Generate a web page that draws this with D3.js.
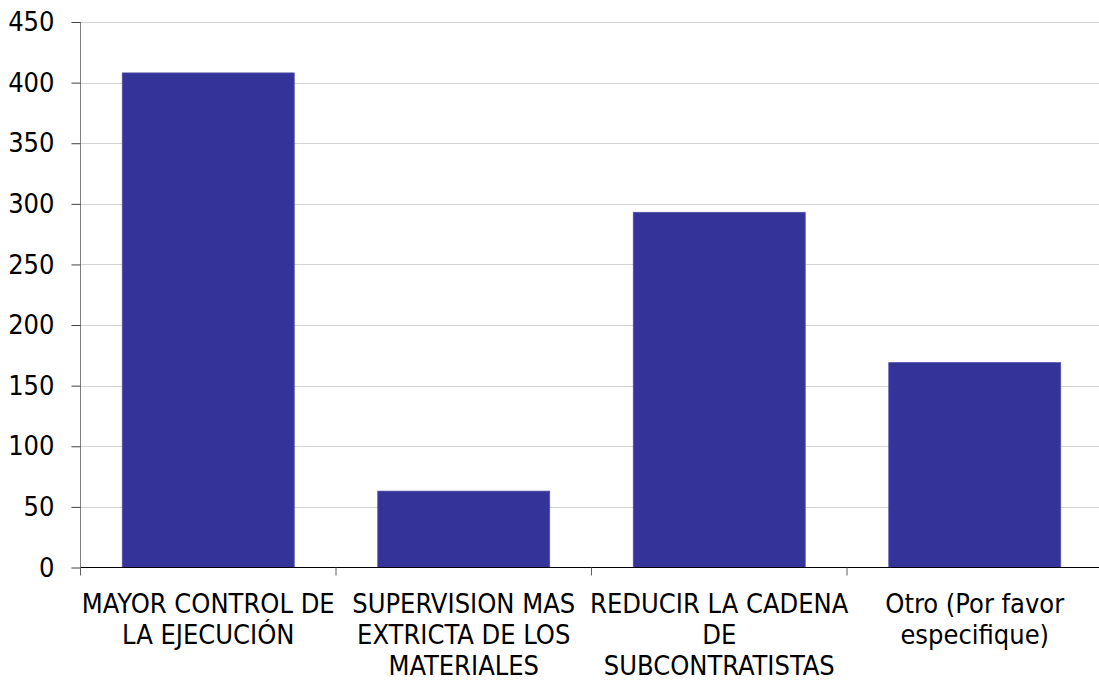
<!DOCTYPE html>
<html><head><meta charset="utf-8">
<script src="https://cdn.jsdelivr.net/npm/d3@7"></script>
<style>
html,body{margin:0;padding:0;background:#fff;}
svg{display:block;}
text{font-family:"DejaVu Sans Condensed","DejaVu Sans",sans-serif;fill:#000;}
</style></head><body>
<svg id="c" width="1099" height="682"></svg>
<script>
const categories = ["MAYOR CONTROL DE LA EJECUCIÓN","SUPERVISION MAS EXTRICTA DE LOS MATERIALES","REDUCIR LA CADENA DE SUBCONTRATISTAS","Otro (Por favor especifique)"];
const categoryLines = [["MAYOR CONTROL DE","LA EJECUCIÓN"],["SUPERVISION MAS","EXTRICTA DE LOS","MATERIALES"],["REDUCIR LA CADENA","DE","SUBCONTRATISTAS"],["Otro (Por favor","especifique)"]];
const values = [408, 63, 293, 169];
const yTicks = [0,50,100,150,200,250,300,350,400,450];

const svg = d3.select("#c");
const m = {left:80.5, top:22, right:-3.5, bottom:114.5};
const W = 1099, H = 682;
const x = d3.scaleBand().domain(categories).range([m.left, W - m.right]).paddingInner(0.327).paddingOuter(0.1635);
const xb = d3.scaleBand().domain(categories).range([m.left, W - m.right]);
const y = d3.scaleLinear().domain([0,450]).range([H - m.bottom, m.top]);

// gridlines
svg.append("g").selectAll("line").data(yTicks.filter(d=>d>0)).join("line")
  .attr("x1", m.left).attr("x2", W).attr("y1", d=>Math.round(y(d))+0.5).attr("y2", d=>Math.round(y(d))+0.5)
  .attr("stroke","#d4d4d4").attr("stroke-width",1);

// bars
svg.append("g").selectAll("rect").data(values).join("rect")
  .attr("x",(d,i)=>x(categories[i])).attr("width",x.bandwidth())
  .attr("y",d=>y(d)).attr("height",d=>y(0)-y(d))
  .attr("fill","#333399").attr("stroke","#5050a8").attr("stroke-width",0.8);

// y axis
const yAxis = d3.axisLeft(y).tickValues(yTicks).tickSize(9).tickPadding(17);
const gy = svg.append("g").attr("transform",`translate(${m.left},0)`).call(yAxis);
gy.select(".domain").attr("stroke","#808080").attr("d",`M0,${y(0)}V${y(450)}`);
gy.selectAll(".tick line").attr("stroke","#404040");
gy.selectAll(".tick text").style("font-size","27px").attr("font-family",null);
gy.attr("font-family",null).attr("font-size",null);

// x axis
const xAxis = d3.axisBottom(xb).tickSize(0).tickFormat("");
const gx = svg.append("g").attr("transform",`translate(0,${y(0)})`).call(xAxis);
gx.select(".domain").attr("stroke","#000").attr("d",`M${m.left},0H${W}`);
gx.selectAll(".tick").remove();
// boundary ticks
const bounds = categories.map(c=>xb(c)).concat([xb(categories[3])+xb.bandwidth()]);
gx.selectAll("line.bt").data(bounds).join("line").attr("class","bt")
  .attr("x1",d=>d).attr("x2",d=>d).attr("y1",0).attr("y2",8).attr("stroke","#606060");

// category labels
const lab = svg.append("g");
categoryLines.forEach((lines,i)=>{
  const cx = xb(categories[i]) + xb.bandwidth()/2;
  const t = lab.append("text").attr("text-anchor","middle").style("font-size","27px");
  lines.forEach((ln,j)=>{
    t.append("tspan").attr("x",cx).attr("y", 613 + j*31).text(ln);
  });
});
</script>
</body></html>
